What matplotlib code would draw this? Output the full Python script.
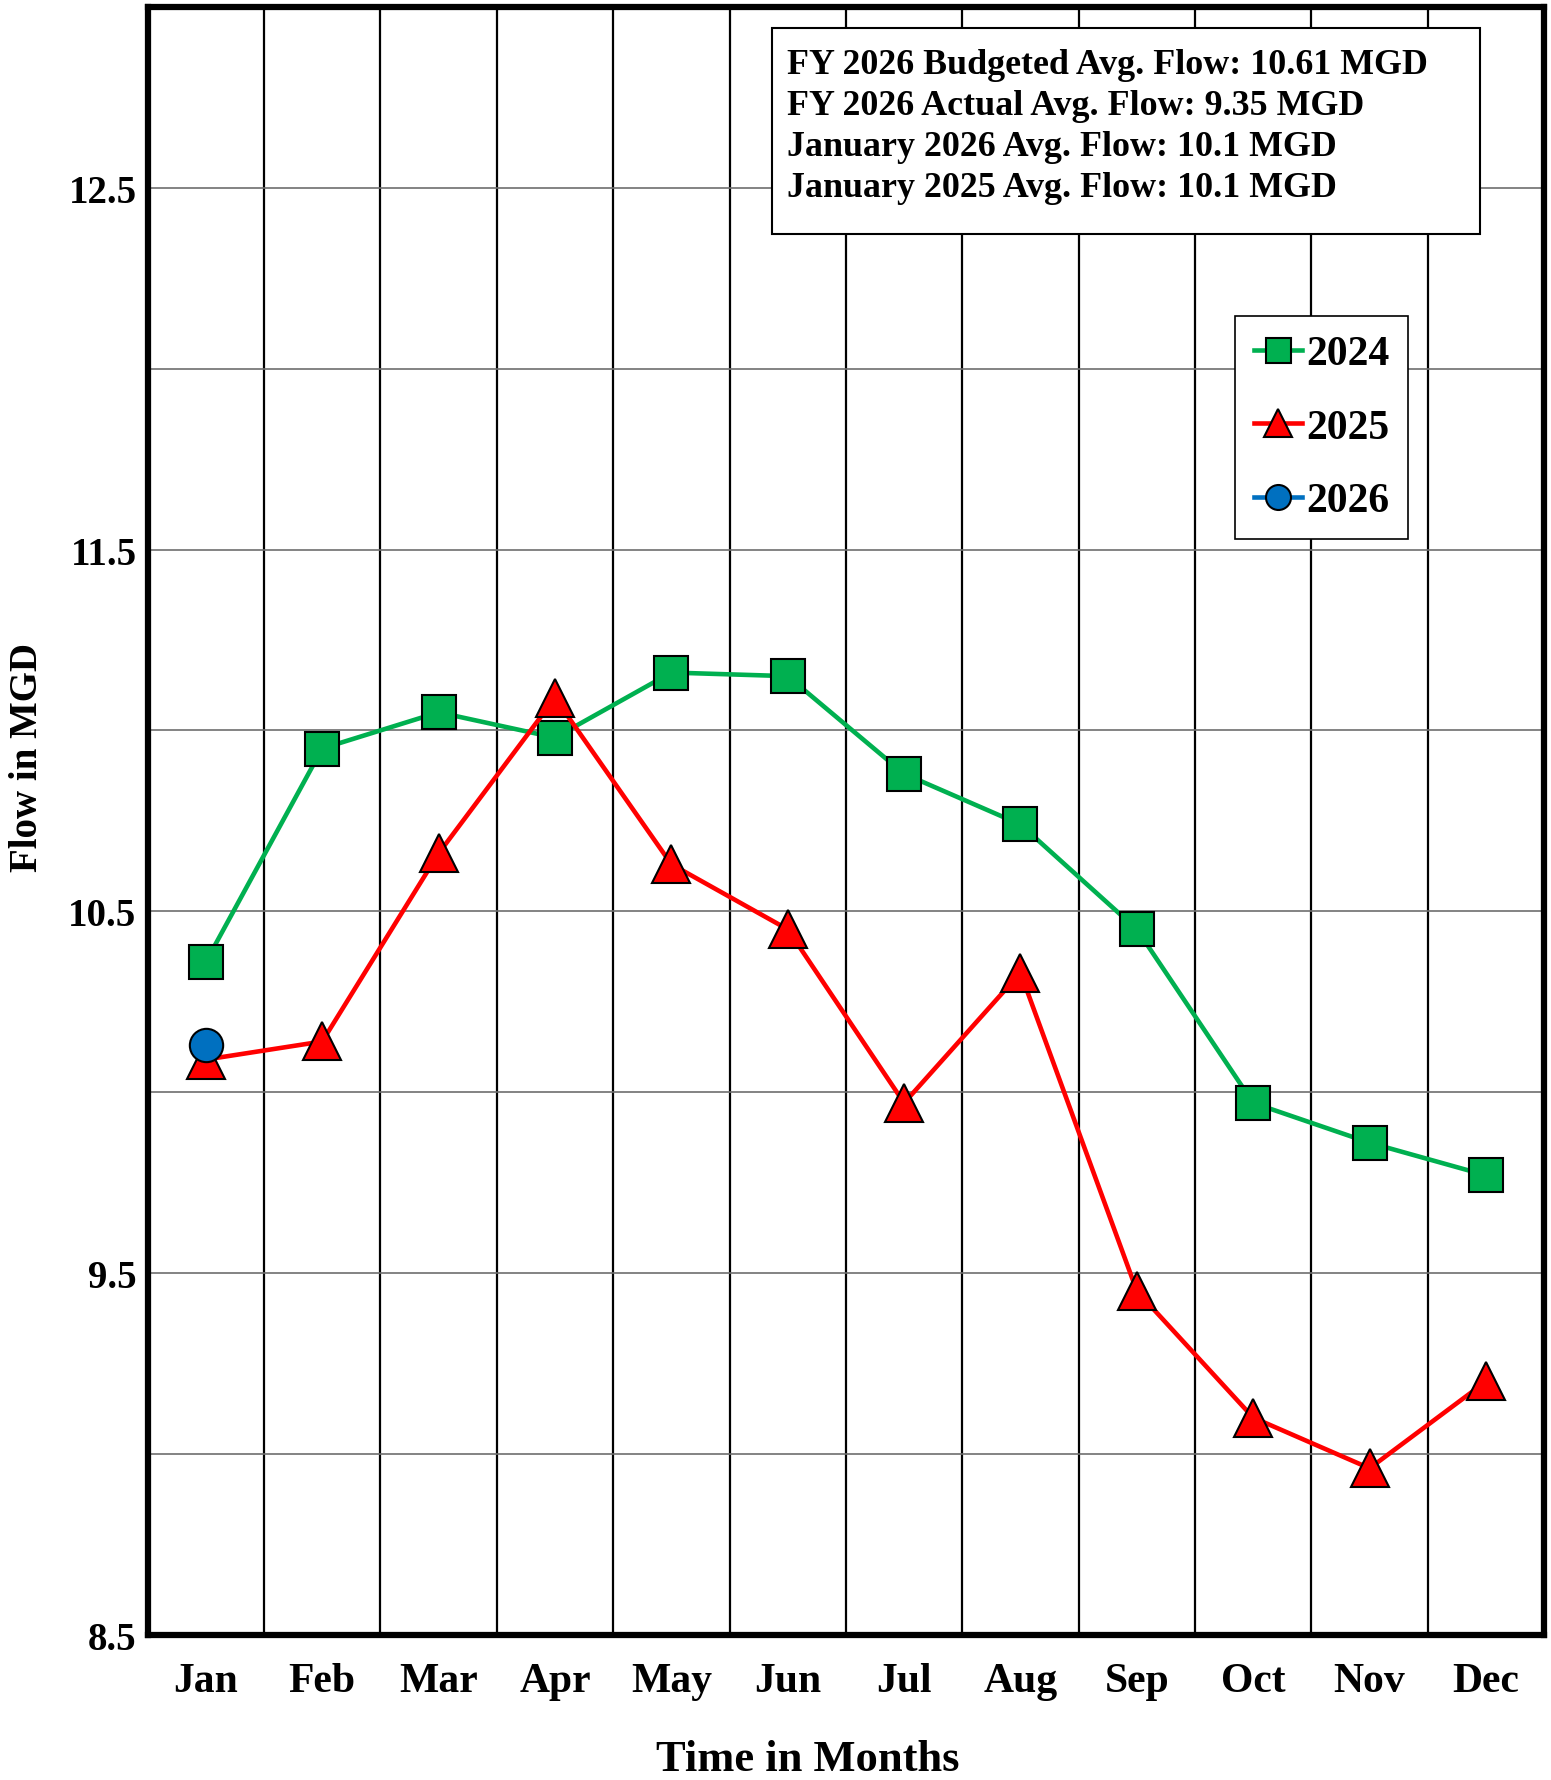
import matplotlib
matplotlib.use('Agg')
import matplotlib.pyplot as plt
import numpy as np
from matplotlib.patches import Rectangle

months = ['Jan', 'Feb', 'Mar', 'Apr', 'May', 'Jun',
          'Jul', 'Aug', 'Sep', 'Oct', 'Nov', 'Dec']
flow_2024 = [10.36, 10.95, 11.05, 10.98, 11.16, 11.15,
             10.88, 10.74, 10.45, 9.97, 9.86, 9.77]
flow_2025 = [10.09, 10.14, 10.66, 11.09, 10.63, 10.45,
             9.97, 10.33, 9.45, 9.10, 8.96, 9.20]
flow_2026 = [10.13]

info_lines = ['FY 2026 Budgeted Avg. Flow: 10.61 MGD',
              'FY 2026 Actual Avg. Flow: 9.35 MGD',
              'January 2026 Avg. Flow: 10.1 MGD',
              'January 2025 Avg. Flow: 10.1 MGD']

plt.rcParams['font.family'] = ['Liberation Serif', 'DejaVu Serif']

fig = plt.figure(figsize=(15.51, 17.81), dpi=100)
ax = fig.add_axes((0.0952, 0.0816, 0.9004, 0.9139))

x = np.arange(len(months))
ax.plot(x, flow_2024, color='#00B050', lw=3.3, marker='s', ms=24,
        mfc='#00B050', mec='black', mew=1.5, label='2024', zorder=3)
ax.plot(x, flow_2025, color='#FF0000', lw=3.3, marker='^', ms=27,
        mfc='#FF0000', mec='black', mew=1.5, label='2025', zorder=4)
ax.plot(x[:len(flow_2026)], flow_2026, color='#0070C0', lw=3.3, marker='o',
        ms=24, mfc='#0070C0', mec='black', mew=1.5, label='2026', zorder=5)

ax.set_xlim(-0.5, 11.5)
ax.set_ylim(8.5, 13.0)
ax.set_xticks(x)
ax.set_xticklabels(months, fontsize=30, fontweight='bold')
ax.set_xticks(np.arange(0.5, 11, 1), minor=True)
ax.set_yticks(np.arange(8.5, 12.6, 1.0))
ax.set_yticklabels(['8.5', '9.5', '10.5', '11.5', '12.5'], fontsize=28,
                   fontweight='bold')
ax.set_yticks(np.arange(9.0, 13.0, 1.0), minor=True)
ax.tick_params(axis='both', which='both', length=0)
ax.tick_params(axis='x', pad=20)
ax.tick_params(axis='y', pad=8)

for v in np.arange(0.5, 11, 1):
    ax.axvline(v, color='black', lw=1.6, zorder=1)
for v in np.arange(9.0, 13.0, 0.5):
    ax.axhline(v, color='#6e6e6e', lw=1.2, zorder=1)

for s in ax.spines.values():
    s.set_linewidth(4.5)
    s.set_color('black')

# info box
ax.add_patch(Rectangle((0.447, 0.8604), 0.5067, 0.1266, transform=ax.transAxes,
                       facecolor='white', edgecolor='black', lw=1.5, zorder=6))
ax.text(0.4577, 0.975, '\n'.join(info_lines), transform=ax.transAxes,
        fontsize=25.8, fontweight='bold', va='top', ha='left',
        linespacing=1.33, zorder=7)

leg = ax.legend(loc='upper right', bbox_to_anchor=(0.9024, 0.810),
                borderaxespad=0, handlelength=1.15,
                handletextpad=0.1, labelspacing=0.85, fancybox=False,
                framealpha=1, edgecolor='black', markerscale=0.75,
                borderpad=0.45,
                prop={'weight': 'bold', 'size': 30})
leg.get_frame().set_linewidth(1.2)
leg.set_zorder(8)

fig.text(0.018, 0.5746, 'Flow in MGD', rotation=90, ha='center', va='center',
         fontsize=28, fontweight='bold')
fig.text(0.521, 0.012, 'Time in Months', ha='center', va='center',
         fontsize=32, fontweight='bold')

fig.savefig('out.png', dpi=100, facecolor='white')
